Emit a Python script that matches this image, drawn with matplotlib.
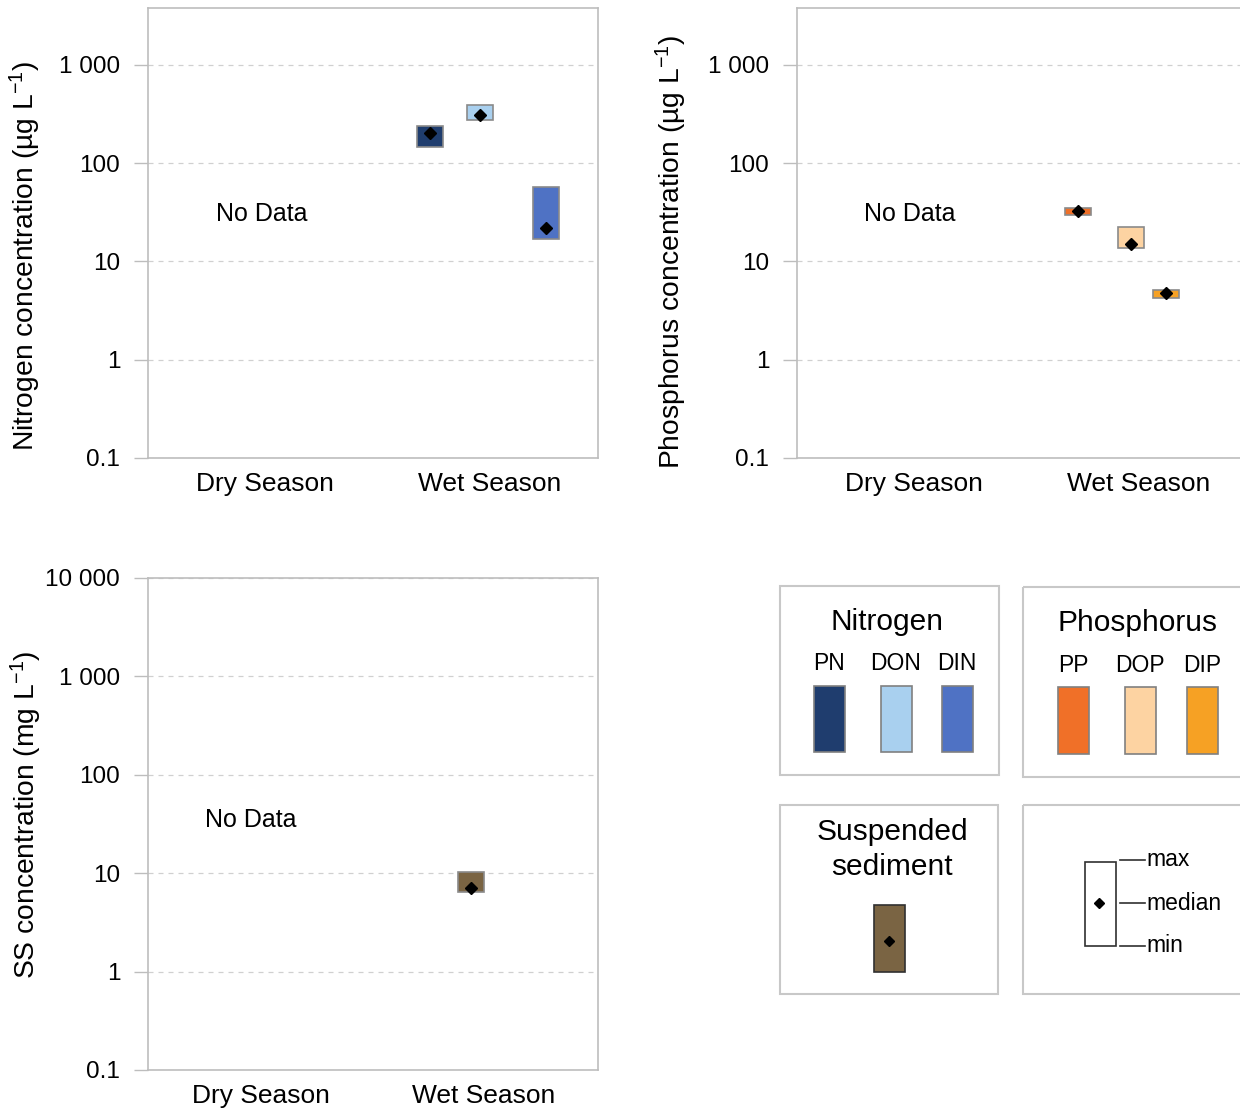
import matplotlib
matplotlib.use("Agg")
import matplotlib.pyplot as plt
from matplotlib.patches import Rectangle
from matplotlib.ticker import FixedLocator, NullLocator

plt.rcParams["font.family"] = ["Liberation Sans", "DejaVu Sans"]
plt.rcParams["mathtext.default"] = "regular"

# ---- data: wet-season ranges (min, median, max) ----
seasons = ["Dry Season", "Wet Season"]

n_species = ["PN", "DON", "DIN"]
n_min = [146, 275, 17]
n_med = [203, 310, 22]
n_max = [239, 392, 57]

p_species = ["PP", "DOP", "DIP"]
p_min = [30, 13.7, 4.25]
p_med = [33, 15, 4.8]
p_max = [35, 22.5, 5.1]

ss_species = ["SS"]
ss_min = [6.4]
ss_med = [7.0]
ss_max = [10.2]

n_colors = ["#1f3d6e", "#a9d0ef", "#4f72c4"]
p_colors = ["#f07028", "#fdd3a2", "#f6a124"]
ss_colors = ["#7a6443"]

nutrient_ticks = [0.1, 1, 10, 100, 1000]
nutrient_ticklabels = ["0.1", "1", "10", "100", "1 000"]
ss_ticks = [0.1, 1, 10, 100, 1000, 10000]
ss_ticklabels = ["0.1", "1", "10", "100", "1 000", "10 000"]

W, H = 1240, 1112
fig = plt.figure(figsize=(W / 100, H / 100), dpi=100)

SPINE = "#bdbdbd"
GRID = "#d0d0d0"
FS = 17.5
XFS = 19
YLFS = 20.3


def px_axes(x0, y0, x1, y1):
    return fig.add_axes([x0 / W, 1 - y1 / H, (x1 - x0) / W, (y1 - y0) / H])


def panel(ax, box, ticks, ticklabels, ylim, ylabel, label_xy, xpos, offsets,
          mins, meds, maxs, colors, nodata_xy):
    x0, y0, x1, y1 = box
    ax.set_yscale("log")
    ax.set_ylim(*ylim)
    ax.set_xlim(0, 2)
    ax.yaxis.set_major_locator(FixedLocator(ticks))
    ax.yaxis.set_minor_locator(NullLocator())
    ax.set_yticklabels(ticklabels)
    ax.set_xticks(xpos)
    ax.set_xticklabels(seasons)
    ax.tick_params(axis="y", length=10, width=1, color=SPINE, labelsize=FS, pad=10)
    ax.tick_params(axis="x", length=0, labelsize=XFS, pad=10)
    for s in ax.spines.values():
        s.set_color(SPINE)
        s.set_linewidth(1.2)
    ax.grid(axis="y", color=GRID, linestyle=(0, (4, 4)), linewidth=0.9)
    ax.set_axisbelow(True)
    ax.set_ylabel(ylabel, fontsize=YLFS)
    lx, ly = label_xy
    ax.yaxis.set_label_coords((lx - x0) / (x1 - x0), (y1 - ly) / (y1 - y0))
    ax.yaxis.label.set_verticalalignment("center")
    xs = [xpos[1] + o for o in offsets]
    heights = [hi - lo for lo, hi in zip(mins, maxs)]
    ax.bar(xs, heights, bottom=mins, width=0.115, color=colors,
           edgecolor="#8a8a8a", linewidth=1.2, zorder=3)
    ax.plot(xs, meds, linestyle="none", marker="D", markersize=6,
            color="black", zorder=4)
    ax.text(nodata_xy[0], nodata_xy[1], "No Data", ha="center", va="center",
            fontsize=18)


b1 = (148, 8, 598, 458)
ax1 = px_axes(*b1)
panel(ax1, b1, nutrient_ticks, nutrient_ticklabels, (0.1, 10 ** 3.58),
      "Nitrogen concentration (µg L$^{-1}$)", (25, 256), [0.52, 1.52],
      [-0.267, -0.044, 0.249], n_min, n_med, n_max, n_colors,
      (0.505, 10 ** 1.48))

b2 = (797, 8, 1247, 458)
ax2 = px_axes(*b2)
panel(ax2, b2, nutrient_ticks, nutrient_ticklabels, (0.1, 10 ** 3.58),
      "Phosphorus concentration (µg L$^{-1}$)", (671, 252), [0.52, 1.52],
      [-0.27, -0.036, 0.12], p_min, p_med, p_max, p_colors,
      (0.502, 10 ** 1.48))

b3 = (148, 578, 598, 1070)
ax3 = px_axes(*b3)
panel(ax3, b3, ss_ticks, ss_ticklabels, (0.1, 10000),
      "SS concentration (mg L$^{-1}$)", (26, 815), [0.5, 1.49],
      [-0.054], ss_min, ss_med, ss_max, ss_colors,
      (0.456, 10 ** 1.54))

# ---- legend panels drawn in pixel coordinates ----
lg = fig.add_axes([0, 0, 1, 1])
lg.set_xlim(0, W)
lg.set_ylim(H, 0)
lg.axis("off")
lg.patch.set_visible(False)

FRAME = "#c8c8c8"
for (x0, y0, x1, y1) in [(780, 586, 999, 775), (1023, 587, 1250, 777),
                         (780, 805, 998, 994), (1023, 805, 1250, 994)]:
    lg.add_patch(Rectangle((x0, y0), x1 - x0, y1 - y0, fill=False,
                           edgecolor=FRAME, linewidth=1.5))

TITLE_FS = 21.5
SUB_FS = 16.5

lg.text(887, 622, "Nitrogen", ha="center", va="center", fontsize=TITLE_FS)
for cx, name, col in zip([829, 896, 957], n_species, n_colors):
    lg.text(cx, 664, name, ha="center", va="center", fontsize=SUB_FS)
    lg.add_patch(Rectangle((cx - 15.5, 686), 31, 66, facecolor=col,
                           edgecolor="#808080", linewidth=1.2))

lg.text(1137, 623, "Phosphorus", ha="center", va="center", fontsize=TITLE_FS)
for cx, name, col in zip([1073, 1140, 1202], p_species, p_colors):
    lg.text(cx, 665, name, ha="center", va="center", fontsize=SUB_FS)
    lg.add_patch(Rectangle((cx - 15.5, 687), 31, 67, facecolor=col,
                           edgecolor="#808080", linewidth=1.2))

lg.text(892, 832, "Suspended", ha="center", va="center", fontsize=TITLE_FS)
lg.text(892, 867, "sediment", ha="center", va="center", fontsize=TITLE_FS)
lg.add_patch(Rectangle((874, 905), 31, 67, facecolor=ss_colors[0],
                       edgecolor="#303030", linewidth=1.2))
lg.plot([889], [941], marker="D", markersize=5, color="black")

lg.add_patch(Rectangle((1085, 862), 31, 84, facecolor="white",
                       edgecolor="#303030", linewidth=1.2))
lg.plot([1099], [903], marker="D", markersize=5, color="black")
for yy, word in [(860, "max"), (903, "median"), (946, "min")]:
    lg.plot([1120, 1145], [yy, yy], color="#303030", linewidth=1.2)
    lg.text(1146, yy, word, ha="left", va="center", fontsize=SUB_FS)

fig.savefig("out.png", dpi=100, facecolor="white")
